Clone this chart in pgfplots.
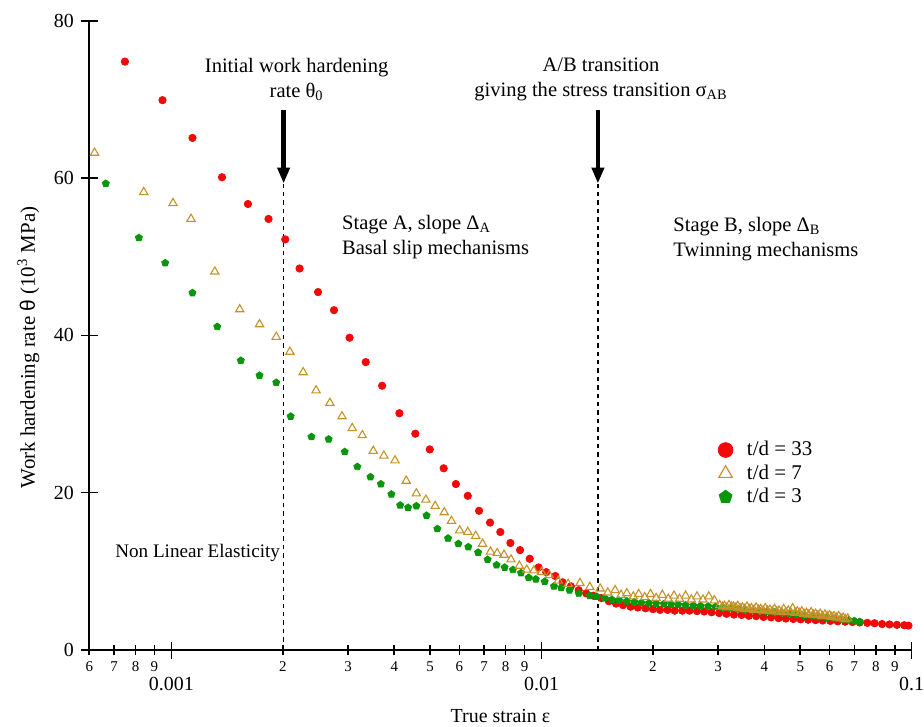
\documentclass[border=0pt]{standalone}
\usepackage{fontspec}
\setmainfont{Liberation Serif}
\newfontfamily\sansgr{Liberation Sans}
\usepackage{pgfplots}
\pgfplotsset{compat=1.18}
\usetikzlibrary{plotmarks,arrows.meta}

\definecolor{cred}{RGB}{240,10,10}
\definecolor{ctan}{RGB}{196,146,40}
\definecolor{cgreen}{RGB}{10,150,10}
\newcommand\annot{\fontsize{10.3}{12.5}\selectfont}

\begin{document}
\begin{tikzpicture}
\path[use as bounding box] (-44.65bp,-38.5bp) rectangle (417.35bp,325bp);
\begin{axis}[
    scale only axis, width=411.2bp, height=314.65bp,
    xmode=log, xmin=0.0006, xmax=0.1, ymin=0, ymax=80,
    axis x line=bottom, axis y line=left,
    axis line style={-, line width=0.8bp},
    tick style={black, line width=0.8bp},
    tick align=center, major tick length=8.5bp, minor tick length=0pt,
    /pgf/number format/assume math mode=true,
    ytick={0,20,40,60,80},
    yticklabel style={font=\fontsize{10}{12}\selectfont},
    xtick={0.001,0.01,0.1}, xticklabels={0.001,0.01,0.1},
    xticklabel style={font=\fontsize{10}{12}\selectfont, yshift=-6bp},
    minor xtick={},
    extra x ticks={0.0006,0.0007,0.0008,0.0009,0.002,0.003,0.004,0.005,0.006,0.007,0.008,0.009,0.02,0.03,0.04,0.05,0.06,0.07,0.08,0.09},
    extra x tick labels={6,7,8,9,2,3,4,5,6,7,8,9,2,3,4,5,6,7,8,9},
    extra x tick style={major tick length=5bp, xticklabel style={font=\fontsize{7.5}{8}\selectfont, yshift=6bp}},
    xlabel={True strain ε},
    ylabel={Work hardening rate {\sansgr θ} (10\textsuperscript{3} MPa)},
    every axis x label/.style={at={(axis description cs:0.5,-0.105)}, anchor=center, font=\fontsize{10}{12}\selectfont},
    every axis y label/.style={at={(axis description cs:-0.074,0.481)}, rotate=90, anchor=center, font=\fontsize{10.5}{12}\selectfont},
    clip=false,
    legend style={draw=none, fill=none, at={(0.757,0.345)}, anchor=north west,
        font=\fontsize{10.5}{12}\selectfont, row sep=-1bp, column sep=5bp},
    legend cell align=left,
]
\addlegendimage{only marks, mark=*, mark size=3.7pt, color=cred}
\addlegendentry{t/d = 33}
\addlegendimage{only marks, mark=triangle, mark size=3.9pt, color=ctan, mark options={line width=0.6bp}}
\addlegendentry{t/d = 7}
\addlegendimage{only marks, mark=pentagon*, mark size=3.4pt, color=cgreen}
\addlegendentry{t/d = 3}

% t/d = 33
\addplot[only marks, mark=*, mark size=1.85pt, color=cred, forget plot] coordinates {
(0.000749,74.8) (0.000946,69.9) (0.00114,65.1) (0.00137,60.1) (0.00161,56.7)
(0.00183,54.8) (0.00203,52.2) (0.00222,48.5) (0.00249,45.5) (0.00275,43.2)
(0.00303,39.7) (0.00335,36.6) (0.00371,33.6) (0.00413,30.1) (0.00456,27.5)
(0.00499,25.5) (0.00544,23.1) (0.00587,21.1) (0.00632,19.6) (0.00678,17.7)
(0.00726,16.2) (0.00774,15.0) (0.00824,13.6) (0.00875,12.7) (0.00929,11.6)
(0.00982,10.5) (0.0103,9.9) (0.0109,9.4) (0.0114,8.6)
(0.0120,8.1) (0.0126,7.6) (0.0132,7.2) (0.0138,6.9) (0.0145,6.6) (0.0152,6.2)
(0.0159,5.9) (0.0166,5.7) (0.0174,5.5) (0.0182,5.4) (0.0191,5.3) (0.0200,5.2)
(0.0209,5.1) (0.0219,5.1) (0.0229,5.0) (0.0240,5.0) (0.0251,5.0) (0.0263,4.95)
(0.0275,4.9) (0.0288,4.8) (0.0302,4.7) (0.0316,4.6) (0.0331,4.5) (0.0347,4.45)
(0.0363,4.35) (0.0380,4.3) (0.0398,4.2) (0.0417,4.15) (0.0437,4.05) (0.0457,4.0)
(0.0479,3.95) (0.0501,3.9) (0.0525,3.85) (0.0550,3.8) (0.0575,3.75) (0.0603,3.7)
(0.0631,3.65) (0.0661,3.6) (0.0692,3.55) (0.0724,3.5) (0.0759,3.45) (0.0794,3.4)
(0.0832,3.3) (0.0871,3.25) (0.0912,3.2) (0.0955,3.15) (0.0980,3.1)
};
% t/d = 3
\addplot[only marks, mark=pentagon*, mark size=1.85pt, color=cgreen, forget plot] coordinates {
(0.000665,59.3) (0.000817,52.4) (0.000962,49.2) (0.00114,45.4) (0.00133,41.1)
(0.00154,36.8) (0.00173,34.9) (0.00192,34.0) (0.00210,29.7) (0.00239,27.1)
(0.00266,26.8) (0.00294,25.2) (0.00318,23.3) (0.00345,22.0) (0.00368,21.1)
(0.00393,19.8) (0.00415,18.4) (0.00436,18.1) (0.00459,18.3) (0.00489,17.1)
(0.00523,15.4) (0.00559,14.2) (0.00596,13.5) (0.00634,13.1) (0.00674,12.4)
(0.00715,11.5) (0.00756,10.8) (0.00795,10.5) (0.00837,10.2) (0.0088,9.8)
(0.00923,9.2) (0.00965,9.0) (0.0102,8.7) (0.0108,8.1) (0.0113,7.9)
(0.0119,7.6) (0.0126,7.2) (0.0135,6.9) (0.0141,6.8) (0.0148,6.6) (0.0155,6.4)
(0.0162,6.3) (0.0170,6.2) (0.0178,6.1) (0.0186,6.0) (0.0195,5.95) (0.0204,5.9)
(0.0214,5.85) (0.0224,5.8) (0.0234,5.75) (0.0245,5.7) (0.0257,5.65) (0.0269,5.6)
(0.0282,5.55) (0.0295,5.5) (0.0309,5.4) (0.0324,5.3) (0.0339,5.2) (0.0355,5.1)
(0.0372,5.0) (0.0389,4.95) (0.0407,4.9) (0.0427,4.8) (0.0447,4.7) (0.0468,4.6)
(0.0490,4.5) (0.0513,4.4) (0.0537,4.3) (0.0562,4.2) (0.0589,4.1) (0.0617,4.0)
(0.0646,3.9) (0.0676,3.8) (0.0700,3.7) (0.0724,3.6)
};
% t/d = 7
\addplot[only marks, mark=triangle, mark size=2.4pt, color=ctan, mark options={line width=0.55bp}, forget plot] coordinates {
(0.00062,63.2) (0.000842,58.2) (0.00101,56.8) (0.00113,54.8) (0.00131,48.1)
(0.00153,43.3) (0.00173,41.4) (0.00192,39.8) (0.00209,37.9) (0.00227,35.3)
(0.00246,33.0) (0.00268,31.4) (0.00289,29.7) (0.00308,28.2) (0.00328,27.3)
(0.00351,25.3) (0.00375,24.7) (0.00402,24.1) (0.00431,21.5) (0.00459,19.9)
(0.00487,19.1) (0.00516,18.3) (0.00546,17.5) (0.00571,16.4) (0.00601,15.2)
(0.00632,15.0) (0.00664,14.5) (0.00693,13.5) (0.00728,12.5) (0.00759,12.3)
(0.00792,12.1) (0.00827,11.5) (0.00871,10.7) (0.00912,10.2) (0.00953,10.1)
(0.0100,9.9) (0.0105,9.5) (0.0111,8.8) (0.0118,8.4) (0.0127,8.5) (0.0135,8.0)
(0.0144,7.8) (0.0151,7.3) (0.0158,7.6) (0.0164,7.0) (0.0170,7.2) (0.0177,6.8)
(0.0183,7.1) (0.0190,6.7) (0.0197,7.1) (0.0204,6.6) (0.0212,7.0) (0.0220,6.5)
(0.0228,6.9) (0.0236,6.5) (0.0245,6.9) (0.0254,6.4) (0.0263,6.8) (0.0273,6.4)
(0.0283,6.8) (0.0293,6.3) (0.0303,5.7) (0.0308,5.5) (0.0312,5.6) (0.0317,5.4)
(0.0321,5.7) (0.0326,5.5) (0.0330,5.5) (0.0335,5.4) (0.0339,5.6) (0.0344,5.3)
(0.0349,5.4) (0.0354,5.2) (0.0359,5.5) (0.0364,5.2) (0.0369,5.3) (0.0375,5.1)
(0.0380,5.4) (0.0386,5.1) (0.0391,5.2) (0.0397,5.0) (0.0402,5.3) (0.0408,5.0)
(0.0414,5.1) (0.0420,4.9) (0.0426,5.2) (0.0432,4.9) (0.0438,5.0) (0.0445,4.8)
(0.0451,5.2) (0.0457,4.8) (0.0464,5.0) (0.0471,4.8) (0.0477,5.3) (0.0484,4.7)
(0.0491,4.9) (0.0498,4.7) (0.0505,4.9) (0.0512,4.6) (0.0520,4.7) (0.0527,4.5)
(0.0535,4.8) (0.0542,4.5) (0.0550,4.6) (0.0558,4.4) (0.0566,4.6) (0.0574,4.3)
(0.0583,4.5) (0.0591,4.3) (0.0600,4.4) (0.0608,4.2) (0.0617,4.3) (0.0626,4.1)
(0.0635,4.3) (0.0644,4.0) (0.0653,4.1) (0.0662,3.9) (0.0672,4.0)
};

% stage boundaries
\draw[dash pattern=on 2.2bp off 2bp, line width=0.6bp] (axis cs:0.00201,0) -- (axis cs:0.00201,59.3);
\draw[dash pattern=on 2.2bp off 2bp, line width=0.6bp] (axis cs:0.0142,0) -- (axis cs:0.0142,59.3);
\draw[-{Triangle[width=6bp,length=8bp]}, line width=2.4bp] (axis cs:0.00201,68.6) -- (axis cs:0.00201,59.3);
\draw[-{Triangle[width=6bp,length=8bp]}, line width=2.4bp] (axis cs:0.0142,68.6) -- (axis cs:0.0142,59.3);

\node[align=center, font=\annot] at (axis cs:0.00218,72.5) {Initial work hardening\\rate θ\textsubscript{0}};
\node[align=center, font=\annot] at (axis cs:0.01448,72.5) {A/B transition\\giving the stress transition σ\textsubscript{AB}};
\node[align=left, anchor=west, inner sep=0pt, font=\annot] at (axis cs:0.002886,52.5) {Stage A, slope Δ\textsubscript{A}\\Basal slip mechanisms};
\node[align=left, anchor=west, inner sep=0pt, font=\annot] at (axis cs:0.02266,52.2) {Stage B, slope Δ\textsubscript{B}\\Twinning mechanisms};
\node[anchor=east, inner sep=0pt, font=\fontsize{9.6}{11}\selectfont] at (axis cs:0.00197,12.3) {Non Linear Elasticity};
\end{axis}
\end{tikzpicture}
\end{document}
